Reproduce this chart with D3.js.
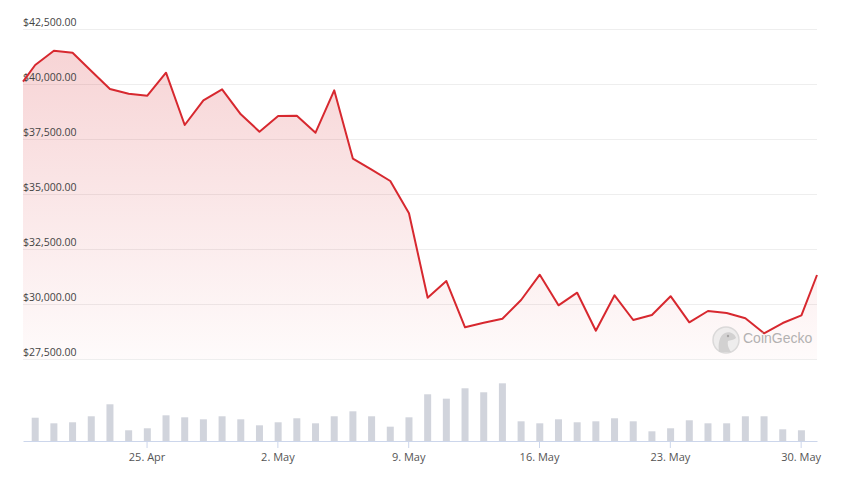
<!DOCTYPE html>
<html>
<head>
<meta charset="utf-8">
<script src="https://cdn.jsdelivr.net/npm/d3@7"></script>
<style>
  body { margin: 0; background: #fff; }
  svg { display: block; font-family: "Open Sans", sans-serif; }
</style>
</head>
<body>
<div class="chart"></div>
<script>
var svgWidth = 841;
var svgHeight = 477;

// first and last points are intraday, the rest are daily closes
var priceDates = ["2022-04-18 09:20",
  "2022-04-19 01:00", "2022-04-20 01:00", "2022-04-21 01:00", "2022-04-22 01:00", "2022-04-23 01:00",
  "2022-04-24 01:00", "2022-04-25 01:00", "2022-04-26 01:00", "2022-04-27 01:00", "2022-04-28 01:00",
  "2022-04-29 01:00", "2022-04-30 01:00", "2022-05-01 01:00", "2022-05-02 01:00", "2022-05-03 01:00",
  "2022-05-04 01:00", "2022-05-05 01:00", "2022-05-06 01:00", "2022-05-07 01:00", "2022-05-08 01:00",
  "2022-05-09 01:00", "2022-05-10 01:00", "2022-05-11 01:00", "2022-05-12 01:00", "2022-05-13 01:00",
  "2022-05-14 01:00", "2022-05-15 01:00", "2022-05-16 01:00", "2022-05-17 01:00", "2022-05-18 01:00",
  "2022-05-19 01:00", "2022-05-20 01:00", "2022-05-21 01:00", "2022-05-22 01:00", "2022-05-23 01:00",
  "2022-05-24 01:00", "2022-05-25 01:00", "2022-05-26 01:00", "2022-05-27 01:00", "2022-05-28 01:00",
  "2022-05-29 01:00", "2022-05-30 01:00",
  "2022-05-30 21:00"];

var prices = [40105,
  40864, 41514, 41423, 40591, 39773, 39559, 39468, 40514, 38136, 39259,
  39759, 38623, 37832, 38545, 38559, 37786, 39714, 36605, 36109, 35591,
  34123, 30286, 31045, 28941, 29150, 29332, 30182, 31332, 29941, 30514,
  28786, 30395, 29273, 29500, 30355, 29168, 29682, 29591, 29350, 28668,
  29136, 29486,
  31318];

// daily volume, billions USD (Apr 19 .. May 30)
var volumes = [29.1, 22.1, 23.4, 30.9, 45.9, 13.4, 15.9, 32.1, 29.6, 27.1,
  30.9, 27.1, 19.6, 23.4, 28.4, 22.1, 30.9, 37.1, 30.9, 17.9,
  29.6, 58.4, 52.9, 65.9, 60.9, 72.1, 24.6, 22.1, 27.1, 23.4,
  24.6, 28.4, 24.6, 12.1, 15.9, 25.9, 22.1, 22.1, 30.9, 30.9,
  14.6, 13.4];
var volumeDates = priceDates.slice(1, -1);

var priceTicks = [27500, 30000, 32500, 35000, 37500, 40000, 42500];
var dateTicks = ["2022-04-25 00:00", "2022-05-02 00:00", "2022-05-09 00:00",
  "2022-05-16 00:00", "2022-05-23 00:00", "2022-05-30 00:00"];

var parseTime = d3.timeParse("%Y-%m-%d %H:%M");
var lineColor = "#d7282f";

var svg = d3.select(".chart")
  .append("svg")
  .attr("width", svgWidth)
  .attr("height", svgHeight);

var priceData = priceDates.map((d, i) => ({ date: parseTime(d), value: prices[i] }));
var volumeData = volumeDates.map((d, i) => ({ date: parseTime(d), value: volumes[i] }));

var xScale = d3.scaleTime()
  .domain(d3.extent(priceData, d => d.date))
  .range([23, 817]);

var yScale = d3.scaleLinear()
  .domain([27500, 42500])
  .range([359, 29]);

var volScale = d3.scaleLinear()
  .domain([0, 90])
  .range([441, 369]);

// gradient for the area
var grad = svg.append("defs").append("linearGradient")
  .attr("id", "areaFill")
  .attr("x1", 0).attr("y1", 0).attr("x2", 0).attr("y2", 1);
grad.append("stop").attr("offset", "0%").attr("stop-color", lineColor).attr("stop-opacity", 0.2);
grad.append("stop").attr("offset", "100%").attr("stop-color", lineColor).attr("stop-opacity", 0.02);

// gridlines
svg.append("g")
  .selectAll("line")
  .data(priceTicks)
  .enter()
  .append("line")
  .attr("x1", 23)
  .attr("x2", 817)
  .attr("y1", d => Math.round(yScale(d)) + 0.5)
  .attr("y2", d => Math.round(yScale(d)) + 0.5)
  .attr("stroke", "#eeeeee")
  .attr("stroke-width", 1);

// area + line
var area = d3.area()
  .x(d => xScale(d.date))
  .y0(yScale(27500))
  .y1(d => yScale(d.value));

var line = d3.line()
  .x(d => xScale(d.date))
  .y(d => yScale(d.value));

svg.append("path")
  .datum(priceData)
  .attr("d", area)
  .attr("fill", "url(#areaFill)");

// y labels (drawn under the line)
svg.append("g")
  .selectAll("text")
  .data(priceTicks)
  .enter()
  .append("text")
  .attr("x", 23)
  .attr("y", d => yScale(d) - 3)
  .attr("font-size", "10.5px")
  .attr("fill", "#444")
  .text(d => "$" + d3.format(",.2f")(d));

svg.append("path")
  .datum(priceData)
  .attr("d", line)
  .attr("fill", "none")
  .attr("stroke", lineColor)
  .attr("stroke-width", 2)
  .attr("stroke-linejoin", "round");

// watermark
var wm = svg.append("g").attr("opacity", 0.75);
wm.append("circle")
  .attr("cx", 726).attr("cy", 340).attr("r", 13)
  .attr("fill", "#e9e9e9").attr("stroke", "#cfcfcf").attr("stroke-width", 1.5);
wm.append("path")
  .attr("d", "M719,352 C718,344 719,336 725,333 C730,331 735,334 736,338 C734,340 730,340 728,341 C727,345 729,349 731,352 Z")
  .attr("fill", "#c4c4c4");
wm.append("circle").attr("cx", 728).attr("cy", 336).attr("r", 1.2).attr("fill", "#888");
wm.append("text")
  .attr("x", 743)
  .attr("y", 343)
  .attr("font-family", "Liberation Sans, Arial, sans-serif")
  .attr("font-size", "14px")
  .attr("fill", "#9a9a9a")
  .text("CoinGecko");

// volume bars
svg.append("g")
  .selectAll("rect")
  .data(volumeData)
  .enter()
  .append("rect")
  .attr("x", d => xScale(d.date) - 3.5)
  .attr("y", d => volScale(d.value))
  .attr("width", 7)
  .attr("height", d => volScale(0) - volScale(d.value))
  .attr("fill", "#d1d4dc");

// x axis
var xAxis = d3.axisBottom(xScale)
  .tickValues(dateTicks.map(parseTime))
  .tickFormat(d3.timeFormat("%-d. %b"))
  .tickSizeInner(7)
  .tickSizeOuter(0)
  .tickPadding(5);

var xg = svg.append("g")
  .attr("transform", "translate(0, 441)")
  .call(xAxis);
xg.select(".domain").attr("stroke", "#ccd6eb");
xg.selectAll(".tick line").attr("stroke", "#ccd6eb");
xg.selectAll(".tick text")
  .attr("font-family", "Open Sans, sans-serif")
  .attr("font-size", "11px")
  .attr("fill", "#555");
</script>
</body>
</html>
